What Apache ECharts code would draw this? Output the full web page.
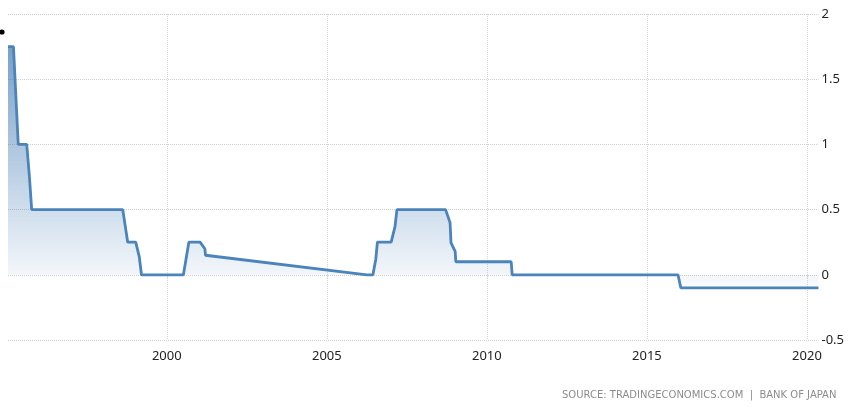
<!DOCTYPE html>
<html>
<head>
<meta charset="utf-8">
<script src="https://cdn.jsdelivr.net/npm/echarts@6/dist/echarts.min.js"></script>
<style>html,body{margin:0;padding:0;background:#fff;}#c{width:855px;height:407px;}</style>
</head>
<body>
<div id="c"></div>
<script>
// decimal year of each change point
const years = [1995.04, 1995.21, 1995.36, 1995.625, 1995.71, 1995.78, 1998.625, 1998.78, 1999.03, 1999.14, 1999.21,
  2000.52, 2000.69, 2001.04, 2001.19, 2001.21, 2006.25, 2006.44, 2006.53, 2006.58, 2007.01, 2007.13, 2007.19,
  2008.71, 2008.85, 2008.88, 2009.01, 2009.03, 2010.76, 2010.79, 2015.97, 2016.06, 2020.36];
const rates = [1.75, 1.75, 1.0, 1.0, 0.75, 0.5, 0.5, 0.25, 0.25, 0.14, 0,
  0, 0.25, 0.25, 0.2, 0.15, 0, 0, 0.12, 0.25, 0.25, 0.37, 0.5,
  0.5, 0.4, 0.245, 0.18, 0.1, 0.1, 0, 0, -0.1, -0.1];
const xTicks = [2000, 2005, 2010, 2015, 2020];
const yTicks = [-0.5, 0, 0.5, 1, 1.5, 2];
const sourceText = 'SOURCE: TRADINGECONOMICS.COM  |  BANK OF JAPAN';

const data = years.map((y, i) => [y, rates[i]]);
const chart = echarts.init(document.getElementById('c'), null, {renderer: 'canvas'});
chart.setOption({
  animation: false,
  grid: {left: 8, right: 36.5, top: 14, bottom: 67, containLabel: false},
  xAxis: {
    type: 'value', min: years[0], max: years[years.length - 1],
    axisLine: {show: false},
    axisTick: {show: true, length: 4, customValues: xTicks, lineStyle: {color: '#d6d6d6', type: [1, 1]}},
    splitLine: {show: true, lineStyle: {color: '#d6d6d6', type: [1, 1]}},
    axisLabel: {customValues: xTicks, margin: 10, color: '#222', fontFamily: 'Noto Sans', fontSize: 13,
      formatter: v => String(Math.round(v))}
  },
  yAxis: {
    type: 'value', position: 'right', min: yTicks[0], max: yTicks[yTicks.length - 1], interval: 0.5,
    axisLine: {show: false}, axisTick: {show: false},
    splitLine: {show: true, lineStyle: {color: '#cfcfcf', type: [1, 1]}},
    axisLabel: {margin: 3, color: '#222', fontFamily: 'Noto Sans', fontSize: 13, formatter: v => String(v)}
  },
  graphic: [
    {type: 'circle', shape: {cx: 2, cy: 32, r: 2.6}, style: {fill: '#000'}},
    {type: 'text', left: 562, top: 390, style: {text: sourceText, fill: '#8c8c8c', font: '10px "DejaVu Sans"'}}
  ],
  series: [{
    type: 'line', data: data, showSymbol: false, symbol: 'none',
    lineStyle: {color: '#4a84bb', width: 2.8},
    areaStyle: {color: new echarts.graphic.LinearGradient(0, 0, 0, 1, [
      {offset: 0, color: 'rgba(62,120,178,1)'},
      {offset: 1, color: 'rgba(62,120,178,0.04)'}
    ])}
  }]
});
</script>
</body>
</html>
